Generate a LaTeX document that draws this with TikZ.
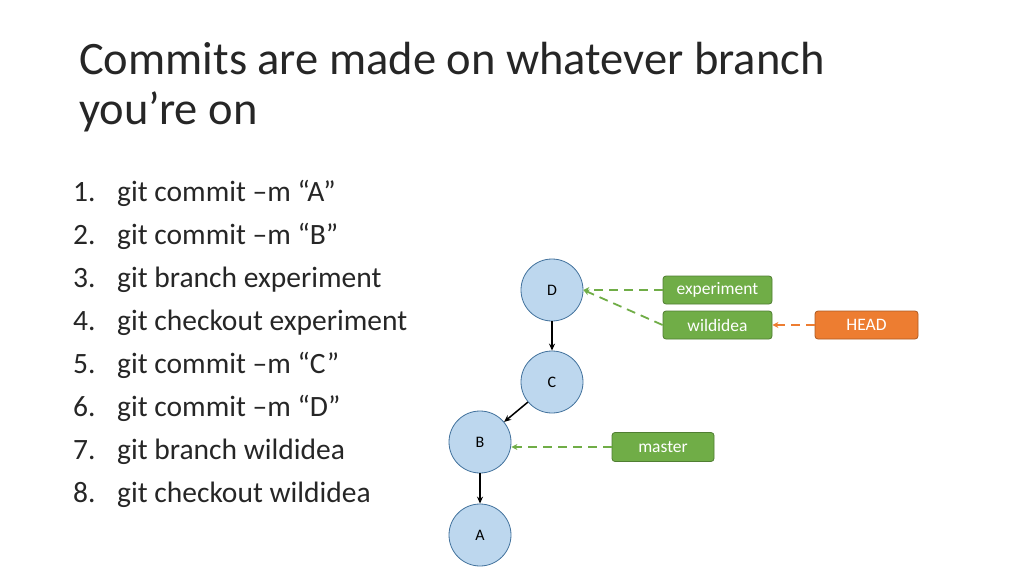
\documentclass[tikz,border=0pt]{standalone}
\usepackage{fontspec}
\setmainfont{Carlito}
\usetikzlibrary{arrows.meta}
\definecolor{cfill}{HTML}{BDD7EE}
\definecolor{cdraw}{HTML}{41719C}
\definecolor{gfill}{HTML}{70AD47}
\definecolor{gdraw}{HTML}{507E32}
\definecolor{ofill}{HTML}{ED7D31}
\definecolor{odraw}{HTML}{AE5A21}
\definecolor{txt}{HTML}{262626}
\begin{document}
\begin{tikzpicture}[x=1pt,y=-1pt,
  commit/.style={circle,draw=cdraw,fill=cfill,line width=0.8pt,minimum size=62pt,inner sep=0pt,font=\fontsize{16}{16}\selectfont},
  ref/.style={draw=gdraw,fill=gfill,rounded corners=3pt,line width=0.8pt,text=white,inner sep=0pt,font=\fontsize{17.5}{17.5}\selectfont},
  href/.style={ref,draw=odraw,fill=ofill},
  parent/.style={-{Stealth[length=7pt,width=6pt]},line width=1.5pt},
  gptr/.style={-{Stealth[length=6pt,width=6pt]},dashed,dash pattern=on 9pt off 6pt,line width=1.8pt,draw=gfill},
  optr/.style={gptr,draw=ofill},
  item/.style={anchor=base west,inner sep=0pt,text=txt,font=\fontsize{29.5}{29.5}\selectfont}]
\useasboundingbox (0,0) rectangle (1024,576);
\node[anchor=base west,inner sep=0pt,text=txt,font=\fontsize{46.5}{46.5}\selectfont] (t1) at (79,74) {Commits are made on whatever branch};
\node[anchor=base west,inner sep=0pt,text=txt,font=\fontsize{46.5}{46.5}\selectfont] (t2) at (79,124) {you’re on};
\foreach \n/\t [count=\i] in {1/{git commit –m “A”},2/{git commit –m “B”},3/{git branch experiment},4/{git checkout experiment},5/{git commit –m “C”},6/{git commit –m “D”},7/{git branch wildidea},8/{git checkout wildidea}}{
  \node[item] (n\i) at (73,{201+43*(\i-1)}) {\n.};
  \node[item] (l\i) at (117,{201+43*(\i-1)}) {\t};
}
\node[commit] (D) at (552,290) {D};
\node[commit] (C) at (552,382) {C};
\node[commit] (B) at (480,442) {B};
\node[commit] (A) at (480,535) {A};
\node[ref,minimum width=109pt,minimum height=28pt] (exp) at (717.5,290) {experiment};
\node[ref,minimum width=109pt,minimum height=28pt] (wild) at (717.5,325) {wildidea};
\node[href,minimum width=103pt,minimum height=28pt] (head) at (866.5,325) {HEAD};
\node[ref,minimum width=102pt,minimum height=29pt] (mas) at (663,447) {master};
\draw[parent] (D) -- (C);
\draw[parent] (C) -- (B);
\draw[parent] (B) -- (A);
\draw[gptr] (exp.west) -- (D.east);
\draw[gptr] (wild.west) -- (D.east);
\draw[optr] (head.west) -- (wild.east);
\draw[gptr] (mas.west) -- (mas.west -| B.east);
\end{tikzpicture}
\end{document}
